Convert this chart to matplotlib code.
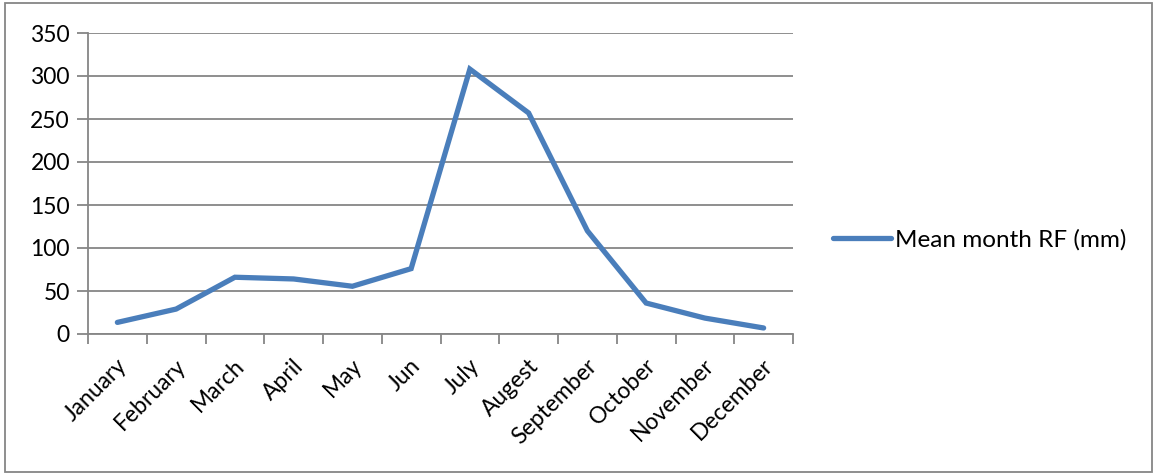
import matplotlib
matplotlib.use("Agg")
import matplotlib.pyplot as plt
from matplotlib.patches import Rectangle

months = ["January", "February", "March", "April", "May", "Jun",
          "July", "Augest", "September", "October", "November", "December"]
rainfall = [13.5, 29, 66, 64, 55.5, 76, 308, 257, 120, 36, 18.5, 7]
yticks = [0, 50, 100, 150, 200, 250, 300, 350]
series_name = "Mean month RF (mm)"

plt.rcParams["font.family"] = ["Lato", "DejaVu Sans"]

W, H = 1155, 474
fig = plt.figure(figsize=(W / 100, H / 100), dpi=100)
fig.patch.set_facecolor("white")

# outer chart frame
fig.add_artist(Rectangle((5 / W, 2 / H), 1147 / W, 469 / H, transform=fig.transFigure,
                         fill=False, edgecolor="#868686", linewidth=1.3))

ax = fig.add_axes([88 / W, 1 - 334 / H, 705 / W, 301 / H])
x = list(range(len(months)))
line, = ax.plot(x, rainfall, color="#4A7EBB", linewidth=3.8, solid_capstyle="round",
                solid_joinstyle="miter", label=series_name, zorder=3)

ax.set_xlim(-0.5, len(months) - 0.5)
ax.set_ylim(0, 350)
ax.set_yticks(yticks)
ax.set_yticklabels([str(v) for v in yticks])
ax.grid(axis="y", color="#868686", linewidth=1.3)
ax.set_axisbelow(True)

for side in ("top", "right"):
    ax.spines[side].set_visible(False)
for side in ("left", "bottom"):
    ax.spines[side].set_color("#868686")
    ax.spines[side].set_linewidth(1.3)

# category ticks sit between months
ax.set_xticks([i - 0.5 for i in range(len(months) + 1)])
ax.set_xticklabels([])
ax.tick_params(axis="x", length=7, width=1.3, color="#868686", direction="out")
ax.tick_params(axis="y", length=8, width=1.3, color="#868686", labelsize=16.5, pad=5)
for i, m in enumerate(months):
    ax.text(i - 0.02, -0.07, m, transform=ax.get_xaxis_transform(), rotation=45,
            ha="right", va="top", rotation_mode="anchor", fontsize=16.5, color="black")

fig.legend(handles=[line], labels=[series_name], loc="center left",
           bbox_to_anchor=(823 / W, 1 - 240 / H), frameon=False, fontsize=17.5,
           handlelength=2.4, handletextpad=0.15, borderaxespad=0)

fig.savefig("out.png", dpi=100)
